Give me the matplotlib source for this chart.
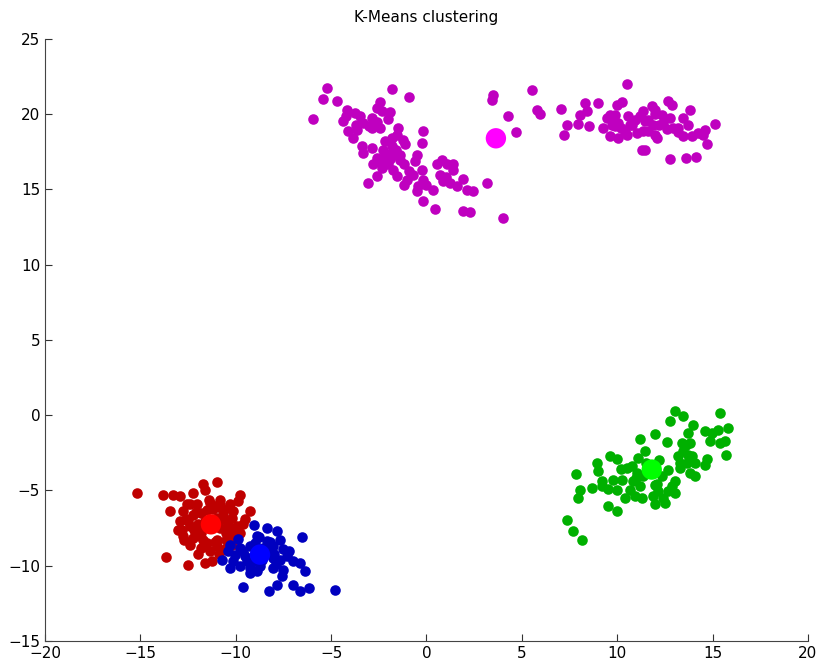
"""
K-Means clustering scatter (MATLAB-style look)
"""
import matplotlib
matplotlib.use("Agg")
import matplotlib.pyplot as plt

# cluster members
magenta_x = [-5.23, -5.44, -4.68, -5.94, -1.83, -0.90, -2.44, -2.61, -4.18, -3.75, -3.49, -4.36,
             -3.31, -2.87, -2.35, -1.91, -2.00, -2.87, -2.44, -4.10, -3.66, -3.84, -1.48, -1.56,
             -1.22, -1.13, -0.17, -0.25, -3.40, -2.87, -3.31, -1.83, -1.74, -0.51, -0.60, -2.61,
             -2.18, -1.39, -2.00, -2.79, -2.35, -1.74, -1.56, -2.61, -3.05, -1.04, -0.69, -0.25,
             -0.17, -0.43, -0.51, -0.17, 0.36, 0.45, 0.53, 0.80, 1.06, 1.41, 0.71, 0.88,
             1.23, 1.58, 2.10, 2.45, 1.93, 2.28, 1.41, -2.18, -1.91, -1.39, 3.16, 4.03,
             3.50, 3.42, 4.29, 4.69, 5.52, 5.78, 5.95, 7.04, 7.35, 7.23, 7.96, 8.05,
             8.31, 8.43, 9.01, 8.54, 10.50, 9.97, 10.24, 9.45, 9.62, 9.88, 9.27, 9.71,
             10.06, 9.62, 10.06, 10.58, 10.67, 10.50, 11.02, 10.93, 11.37, 11.46, 11.37, 11.81,
             11.98, 11.89, 11.98, 12.07, 12.33, 12.42, 12.68, 12.86, 12.77, 12.94, 13.20, 13.47,
             13.82, 13.73, 13.47, 13.91, 14.25, 14.52, 14.60, 15.13, 14.72, 11.28, 11.46, 12.77,
             13.61, 14.13,
             -2.30, -1.90, -2.50, -1.60, -2.20, -1.80, -3.00, -3.70, -2.60, -4.20, -1.20, -0.90,
             -1.20, 0.00, 1.00, 1.90,
             9.80, 10.20, 10.80, 11.20, 11.60, 12.20, 12.60, 13.20, 10.40, 9.90, 11.60, 12.00]
magenta_y = [21.75, 21.04, 20.86, 19.65, 21.70, 21.15, 20.80, 20.42, 20.31, 20.09, 19.87, 19.53,
             19.42, 19.75, 20.20, 20.13, 19.65, 19.09, 19.09, 18.87, 18.98, 18.43, 19.09, 18.65,
             18.32, 17.99, 18.87, 18.10, 17.87, 17.76, 17.43, 17.87, 17.32, 17.32, 16.88, 17.10,
             16.99, 16.99, 16.66, 16.66, 16.43, 16.32, 15.88, 15.88, 15.44, 15.66, 15.99, 16.32,
             15.66, 15.22, 14.88, 14.22, 14.99, 13.67, 16.66, 16.99, 16.66, 16.66, 15.99, 15.55,
             15.44, 15.22, 14.99, 14.88, 13.56, 13.48, 16.32, 17.32, 17.38, 17.32, 15.44, 13.11,
             21.31, 20.93, 19.87, 18.82, 21.64, 20.31, 20.02, 20.38, 19.27, 18.60, 19.36, 19.98,
             20.75, 20.24, 20.75, 19.20, 22.01, 20.64, 20.82, 19.75, 19.93, 19.98, 19.09, 19.31,
             19.42, 18.54, 18.42, 19.87, 19.31, 18.65, 18.76, 19.64, 20.20, 19.53, 18.87, 20.53,
             20.31, 19.31, 18.65, 18.42, 19.98, 19.42, 20.86, 20.64, 19.75, 19.09, 19.09, 19.75,
             20.31, 19.31, 18.54, 18.54, 18.76, 18.65, 18.98, 19.38, 17.99, 17.65, 17.65, 17.00,
             17.06, 17.14,
             17.60, 17.00, 16.90, 17.60, 18.20, 18.40, 19.20, 19.30, 19.50, 19.90, 16.70, 16.20,
             15.30, 15.30, 15.80, 15.70,
             19.60, 19.10, 19.30, 19.90, 18.90, 19.30, 19.00, 18.80, 18.80, 19.20, 19.60, 20.00]

green_x = [13.03, 13.47, 12.77, 15.39, 13.99, 15.83, 13.73, 14.60, 14.96, 15.30, 11.20, 11.98,
           12.60, 13.38, 13.82, 14.87, 15.39, 15.65, 15.69, 11.46, 11.11, 13.47, 13.20, 13.73,
           9.62, 9.97, 10.76, 10.50, 13.29, 13.64, 14.08, 14.69, 14.60, 8.92, 9.01, 7.82,
           11.02, 12.68, 13.29, 13.82, 14.08, 9.80, 10.24, 9.19, 10.85, 11.37, 12.33, 13.03,
           12.86, 8.05, 8.66, 9.19, 9.97, 10.67, 11.20, 11.98, 12.16, 12.68, 13.03, 7.96,
           10.41, 10.93, 11.28, 11.89, 12.42, 12.51, 11.98, 9.53, 9.97, 7.35, 7.70, 8.14,
           11.50, 11.00, 12.20, 12.10, 10.20, 13.60, 13.90, 9.50]
green_y = [0.27, -0.07, -0.40, 0.15, -0.62, -0.84, -1.18, -1.06, -1.18, -0.95, -1.61, -1.28,
           -1.77, -1.84, -1.84, -1.73, -1.84, -1.73, -2.66, -2.39, -2.84, -2.39, -2.72, -2.61,
           -2.72, -2.94, -3.39, -3.50, -3.17, -3.17, -3.17, -2.94, -3.28, -3.17, -3.72, -3.90,
           -3.83, -3.61, -3.50, -3.83, -4.05, -4.27, -4.27, -4.39, -4.39, -4.05, -4.05, -4.39,
           -4.72, -4.94, -4.83, -4.72, -4.94, -4.94, -4.72, -4.61, -5.05, -5.05, -5.16, -5.50,
           -5.50, -5.38, -5.50, -5.38, -5.50, -5.83, -5.93, -6.05, -6.38, -6.93, -7.71, -8.26,
           -3.20, -4.20, -3.00, -4.60, -3.60, -2.00, -2.70, -4.90]

red_x = [-15.20, -13.80, -13.31, -12.93, -12.23, -11.70, -11.62, -11.00, -9.78, -9.87, -10.30, -10.83,
         -11.35, -12.05, -12.57, -12.75, -13.45, -9.26, -12.23, -10.66, -10.13, -12.93, -13.02, -12.40,
         -10.39, -9.95, -9.78, -12.75, -12.23, -11.70, -11.00, -10.30, -12.40, -11.62, -11.00, -11.35,
         -10.57, -13.66, -12.49, -11.62, -11.26, -11.80, -11.00, -10.50, -11.80, -12.00, -10.80, -11.50,
         -10.00, -12.50, -10.20, -11.20, -10.70,
         -12.60, -12.20, -11.90, -11.50, -11.10, -10.60, -10.40, -10.10, -10.50, -11.10, -11.80, -12.10,
         -12.80, -10.90, -11.60, -11.90, -10.80, -11.40, -12.40, -12.70, -10.20, -10.90, -12.00, -9.60,
         -9.50]
red_y = [-5.15, -5.32, -5.32, -5.38, -5.16, -4.56, -4.94, -4.43, -5.27, -5.71, -5.93, -5.93,
         -5.83, -5.93, -5.93, -6.38, -6.38, -6.38, -6.60, -6.60, -6.38, -7.04, -7.60, -7.38,
         -7.26, -7.38, -7.82, -8.04, -8.15, -8.26, -8.26, -8.15, -8.59, -8.70, -8.70, -9.04,
         -8.92, -9.44, -9.92, -9.81, -9.70, -6.50, -6.80, -7.80, -7.80, -7.20, -7.50, -8.50,
         -8.00, -7.00, -6.80, -6.20, -6.20,
         -6.90, -7.60, -8.00, -6.30, -6.00, -6.30, -7.00, -7.60, -8.30, -8.40, -8.80, -6.40,
         -7.60, -7.00, -7.00, -7.50, -5.60, -5.60, -5.90, -8.30, -8.60, -9.20, -9.20, -7.20,
         -6.90]

blue_x = [-9.05, -8.38, -7.86, -6.54, -8.90, -8.38, -7.68, -10.30, -9.78, -9.26, -8.56, -8.03,
          -7.51, -7.33, -10.04, -9.52, -10.74, -10.13, -9.43, -8.03, -7.68, -6.98, -6.63, -10.30,
          -9.78, -9.26, -8.73, -8.03, -7.51, -9.26, -8.90, -7.59, -6.37, -9.64, -8.24, -7.86,
          -6.98, -6.63, -6.15, -4.80,
          -9.00, -8.40, -8.00, -9.20, -8.60, -8.20, -9.60, -8.80, -7.90, -9.90, -10.40, -7.20]
blue_y = [-7.31, -7.49, -7.71, -8.11, -8.04, -8.37, -8.26, -8.59, -8.82, -8.70, -8.82, -8.70,
          -8.92, -9.37, -9.26, -9.37, -9.59, -9.70, -9.70, -9.48, -9.59, -9.70, -9.81, -10.15,
          -10.03, -10.15, -10.03, -10.15, -10.25, -10.48, -10.37, -10.70, -10.32, -11.43, -11.65, -11.25,
          -11.25, -11.65, -11.48, -11.63,
          -8.50, -9.00, -9.20, -9.80, -9.60, -8.40, -9.00, -8.10, -9.90, -8.20, -9.00, -9.00]

# centroids: magenta, green, red, blue
centroid_x = [3.64, 11.81, -11.30, -8.73]
centroid_y = [18.40, -3.61, -7.25, -9.26]
centroid_colors = ['#FF00FF', '#00FF00', '#FF0000', '#0000FF']

fig = plt.figure(figsize=(8.23, 6.65), dpi=100)
ax = fig.add_axes([0.0547, 0.0361, 0.927, 0.9053])

pt = 58
ax.scatter(magenta_x, magenta_y, s=pt, color='#BF00BF', linewidths=0, zorder=2)
ax.scatter(green_x, green_y, s=pt, color='#00B000', linewidths=0, zorder=2)
ax.scatter(red_x, red_y, s=pt, color='#BF0000', linewidths=0, zorder=2)
ax.scatter(blue_x, blue_y, s=pt, color='#0000BF', linewidths=0, zorder=3)
ax.scatter(centroid_x, centroid_y, s=215, c=centroid_colors, linewidths=0, zorder=4)

ax.set_xlim(-20, 20)
ax.set_ylim(-15, 25)
ax.set_xticks(range(-20, 21, 5))
ax.set_yticks(range(-15, 26, 5))
ax.tick_params(direction='in', length=5, labelsize=11, color='#333333')
ax.spines['top'].set_visible(False)
ax.spines['right'].set_visible(False)
ax.spines['left'].set_color('#444444')
ax.spines['bottom'].set_color('#444444')

ax.set_title('K-Means clustering', fontsize=11, pad=12)

plt.savefig('out.png', dpi=100, facecolor='white')
plt.close()
